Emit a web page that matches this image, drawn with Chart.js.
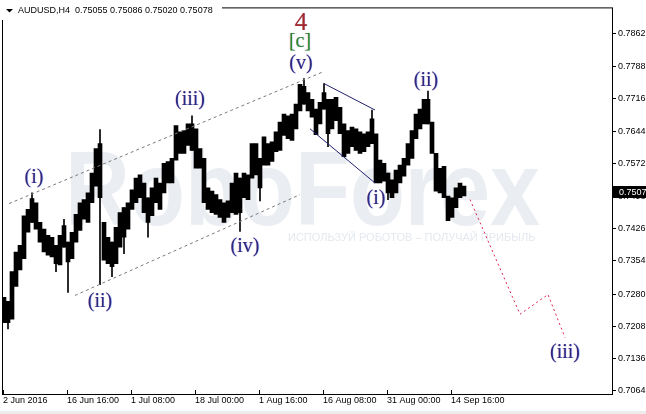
<!DOCTYPE html>
<html>
<head>
<meta charset="utf-8">
<script src="https://cdn.jsdelivr.net/npm/chart.js@4.4.1/dist/chart.umd.min.js"></script>
<style>
  html, body { margin: 0; padding: 0; background: #fff; }
  canvas { display: block; }
</style>
</head>
<body>
<canvas id="chart" width="646" height="414"></canvas>
<script>
const symbol = 'AUDUSD,H4';
const lastBar = [0.75055, 0.75086, 0.75020, 0.75078];
const bidPrice = 0.7507;
const barStep = 4; // H4 bars per drawn column

// dense part of each column (high / low)
const highs = [
  0.7273, 0.7264, 0.7330, 0.7374, 0.7389, 0.7455, 0.7469, 0.7493, 0.7484, 0.7440,
  0.7425, 0.7411, 0.7407, 0.7389, 0.7411, 0.7433, 0.7396, 0.7418, 0.7458, 0.7484,
  0.7491, 0.7506, 0.7550, 0.7605, 0.7616, 0.7440, 0.7407, 0.7396, 0.7429, 0.7462,
  0.7473, 0.7484, 0.7513, 0.7539, 0.7546, 0.7528, 0.7495, 0.7517, 0.7539, 0.7528,
  0.7572, 0.7576, 0.7583, 0.7656, 0.7642, 0.7645, 0.7660, 0.7660, 0.7649, 0.7605,
  0.7583, 0.7517, 0.7510, 0.7502, 0.7491, 0.7484, 0.7488, 0.7528, 0.7550, 0.7539,
  0.7550, 0.7546, 0.7616, 0.7616, 0.7583, 0.7631, 0.7616, 0.7620, 0.7642, 0.7664,
  0.7682, 0.7678, 0.7682, 0.7704, 0.7748, 0.7744, 0.7730, 0.7715, 0.7693, 0.7708,
  0.7730, 0.7715, 0.7715, 0.7719, 0.7697, 0.7660, 0.7645, 0.7653, 0.7649, 0.7642,
  0.7638, 0.7642, 0.7671, 0.7638, 0.7579, 0.7572, 0.7550, 0.7535, 0.7557, 0.7568,
  0.7583, 0.7616, 0.7645, 0.7682, 0.7693, 0.7715, 0.7715, 0.7664, 0.7594, 0.7561,
  0.7565, 0.7499, 0.7495, 0.7517, 0.7528, 0.7521
];
const lows = [
  0.7216, 0.7216, 0.7224, 0.7297, 0.7334, 0.7359, 0.7418, 0.7440, 0.7425, 0.7396,
  0.7374, 0.7367, 0.7363, 0.7348, 0.7345, 0.7385, 0.7352, 0.7359, 0.7396, 0.7422,
  0.7447, 0.7440, 0.7484, 0.7521, 0.7495, 0.7356, 0.7348, 0.7341, 0.7348, 0.7385,
  0.7407, 0.7425, 0.7469, 0.7484, 0.7495, 0.7462, 0.7440, 0.7455, 0.7484, 0.7469,
  0.7506, 0.7528, 0.7528, 0.7579, 0.7594, 0.7594, 0.7612, 0.7601, 0.7561, 0.7561,
  0.7484, 0.7469, 0.7462, 0.7458, 0.7451, 0.7440, 0.7451, 0.7462, 0.7458, 0.7462,
  0.7495, 0.7491, 0.7539, 0.7546, 0.7517, 0.7568, 0.7568, 0.7576, 0.7598, 0.7601,
  0.7634, 0.7627, 0.7623, 0.7649, 0.7689, 0.7704, 0.7689, 0.7675, 0.7636, 0.7660,
  0.7693, 0.7638, 0.7649, 0.7667, 0.7638, 0.7587, 0.7594, 0.7609, 0.7601, 0.7594,
  0.7598, 0.7609, 0.7616, 0.7528, 0.7528, 0.7532, 0.7506, 0.7495, 0.7506, 0.7528,
  0.7543, 0.7568, 0.7583, 0.7627, 0.7649, 0.7660, 0.7660, 0.7594, 0.7510, 0.7506,
  0.7495, 0.7444, 0.7451, 0.7473, 0.7495, 0.7499
];

// single-bar wicks that stick out of the band
const spikeCols  = [1, 7, 13, 15, 16, 24, 27, 30, 36, 47, 59, 64, 75, 80, 81, 92, 96, 106];
const spikeHighs = [0.7264, 0.7506, 0.7389, 0.7447, 0.7396, 0.7647, 0.7396, 0.7473, 0.7495, 0.7678, 0.7539, 0.7583, 0.7761, 0.7750, 0.7715, 0.7691, 0.7550, 0.7733];
const spikeLows  = [0.7202, 0.7440, 0.7330, 0.7385, 0.7284, 0.7301, 0.7319, 0.7370, 0.7407, 0.7601, 0.7420, 0.7488, 0.7704, 0.7693, 0.7609, 0.7616, 0.7491, 0.7660];

const timeLabels = ['2 Jun 2016', '16 Jun 16:00', '1 Jul 08:00', '18 Jul 00:00', '1 Aug 16:00', '16 Aug 08:00', '31 Aug 00:00', '14 Sep 16:00'];
const timeTickBars = [1, 65, 129, 193, 257, 321, 385, 449];
const priceTicks = [0.7862, 0.7788, 0.7716, 0.7644, 0.7572, 0.7498, 0.7426, 0.7354, 0.7280, 0.7208, 0.7136, 0.7064];

// wave marks: [bar, price]
const channelUpper = [[7, 0.7482], [322, 0.7777]];
const channelLower = [[73, 0.7277], [298, 0.7502]];
const wedgeUpper = [[322, 0.7750], [373, 0.7691]];
const wedgeLower = [[308, 0.7649], [373, 0.7528]];
const forecastPath = [[468, 0.7491], [518, 0.7235], [546, 0.7279], [563, 0.7183]];

const waveText  = ['(i)', '(ii)', '(iii)', '(iv)', '(v)', '[c]', '4', '(i)', '(ii)', '(iii)'];
const waveBar   = [32, 98, 188, 243, 299, 298, 299, 374, 424, 563];
const wavePrice = [0.7539, 0.7264, 0.7713, 0.7385, 0.7794, 0.7844, 0.7884, 0.7493, 0.7757, 0.7150];
const waveColor = ['#2a2a85', '#2a2a85', '#2a2a85', '#2a2a85', '#2a2a85', '#2a8a2a', '#a3282a', '#2a2a85', '#2a2a85', '#2a2a85'];

const bandData = highs.map((h, i) => ({ x: i * barStep + barStep / 2, y: [lows[i], h] }));
const spikeData = spikeCols.map((c, i) => ({ x: c * barStep + barStep / 2, y: [spikeLows[i], spikeHighs[i]] }));
const toPoints = arr => arr.map(p => ({ x: p[0], y: p[1] }));

function lineSet(points, color, dash) {
    return {
        type: 'line',
        data: toPoints(points),
        borderColor: color,
        borderWidth: 1,
        borderDash: dash,
        pointRadius: 0,
        fill: false,
        tension: 0
    };
}

Chart.defaults.font.family = '"Liberation Sans", Arial, sans-serif';
Chart.defaults.font.size = 9;
Chart.defaults.color = '#000';

const watermark = {
    id: 'watermark',
    beforeDatasetsDraw(chart) {
        const c = chart.ctx;
        c.save();
        c.fillStyle = '#eaedf2';
        c.font = 'bold 106px "Liberation Sans"';
        c.textBaseline = 'alphabetic';
        c.fillText('RoboForex', 65, 225, 475);
        c.fillStyle = '#e4e9ef';
        c.font = '11px "Liberation Sans"';
        c.fillText('ИСПОЛЬЗУЙ РОБОТОВ – ПОЛУЧАЙ ПРИБЫЛЬ', 288, 241, 254);
        c.restore();
    }
};

const overlay = {
    id: 'overlay',
    afterDraw(chart) {
        const c = chart.ctx;
        const a = chart.chartArea;
        const xs = chart.scales.x;
        const ys = chart.scales.y;
        c.save();

        // frame
        c.strokeStyle = '#000';
        c.lineWidth = 1;
        c.strokeRect(a.left + 0.5, a.top + 0.5, a.right - a.left, a.bottom - a.top);

        // time ticks point up into the chart
        c.beginPath();
        timeTickBars.forEach(t => {
            const px = Math.round(xs.getPixelForValue(t)) + 0.5;
            c.moveTo(px, a.bottom - 4);
            c.lineTo(px, a.bottom);
        });
        c.stroke();

        // wave labels
        c.textAlign = 'center';
        c.textBaseline = 'middle';
        waveText.forEach((t, i) => {
            const px = xs.getPixelForValue(waveBar[i]);
            const py = ys.getPixelForValue(wavePrice[i]);
            c.font = (t === '4' ? '25px' : '20px') + ' "Liberation Serif", serif';
            c.fillStyle = 'rgba(230,80,80,0.35)';
            c.fillText(t, px - 0.6, py);
            c.fillStyle = 'rgba(80,130,255,0.4)';
            c.fillText(t, px + 0.6, py);
            c.fillStyle = waveColor[i];
            c.fillText(t, px, py);
        });

        // bid price box
        const by = ys.getPixelForValue(bidPrice);
        c.fillStyle = '#000';
        c.fillRect(a.right + 1, Math.round(by) - 6, 646 - a.right - 1, 12);
        c.fillStyle = '#fff';
        c.font = '9px "Liberation Sans"';
        c.textAlign = 'left';
        c.fillText(bidPrice.toFixed(4), a.right + 7, by);

        // header
        c.fillStyle = '#fff';
        c.fillRect(0, 0, 222, 20);
        c.fillStyle = '#000';
        c.beginPath();
        c.moveTo(6, 9);
        c.lineTo(13, 9);
        c.lineTo(9.5, 12.5);
        c.closePath();
        c.fill();
        c.font = '9px "Liberation Sans"';
        c.textAlign = 'left';
        c.fillText(symbol + '  ' + lastBar.map(v => v.toFixed(5)).join(' '), 18, 11);

        // bottom strip
        c.fillStyle = '#ececec';
        c.fillRect(0, 411, 646, 3);
        c.restore();
    }
};

new Chart(document.getElementById('chart'), {
    type: 'bar',
    data: {
        datasets: [
            lineSet(forecastPath, '#e0234e', [2, 3]),
            lineSet(wedgeUpper, '#20206e', []),
            lineSet(wedgeLower, '#20206e', []),
            lineSet(channelUpper, '#7a7a7a', [3, 3]),
            lineSet(channelLower, '#7a7a7a', [3, 3]),
            {
                data: spikeData,
                backgroundColor: '#000',
                borderWidth: 0,
                barThickness: 1,
                grouped: false
            },
            {
                data: bandData,
                backgroundColor: '#000',
                borderWidth: 0,
                barPercentage: 1,
                categoryPercentage: 1,
                grouped: false
            }
        ]
    },
    options: {
        responsive: false,
        animation: false,
        devicePixelRatio: 1,
        events: [],
        layout: { padding: { left: 2, top: 2 } },
        plugins: { legend: { display: false }, tooltip: { enabled: false } },
        scales: {
            x: {
                type: 'linear',
                min: 0,
                max: 610,
                offset: false,
                afterBuildTicks: s => { s.ticks = timeTickBars.map(v => ({ value: v })); },
                afterFit: s => { s.height = 20; },
                ticks: {
                    autoSkip: false,
                    maxRotation: 0,
                    align: 'start',
                    padding: 1,
                    callback: (v, i) => timeLabels[i]
                },
                grid: { drawOnChartArea: false, drawTicks: false, offset: false },
                border: { display: false }
            },
            y: {
                position: 'right',
                min: 0.7057,
                max: 0.7920,
                afterBuildTicks: s => { s.ticks = priceTicks.map(v => ({ value: v })); },
                afterFit: s => { s.width = 34; },
                ticks: {
                    padding: 2,
                    callback: v => v.toFixed(4)
                },
                grid: { drawOnChartArea: false, drawTicks: true, tickLength: 4, color: '#000' },
                border: { display: false }
            }
        }
    },
    plugins: [watermark, overlay]
});
</script>
</body>
</html>
